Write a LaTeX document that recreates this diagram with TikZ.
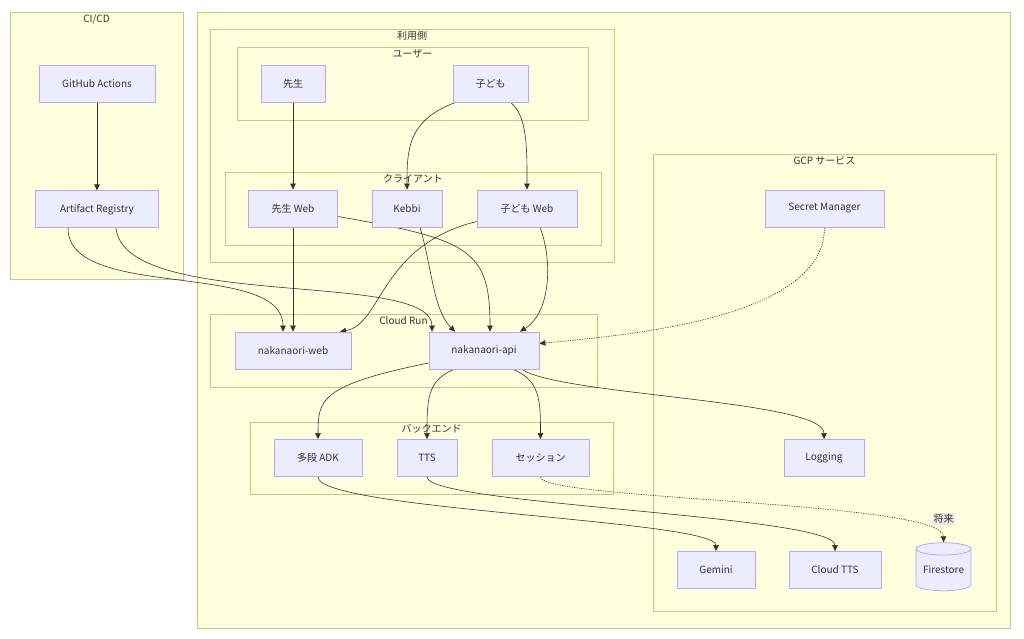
\documentclass[tikz,border=0pt]{standalone}
\usepackage{fontspec}
\setmainfont{Noto Sans CJK JP}
\usetikzlibrary{arrows.meta,positioning,shapes.geometric,backgrounds}

\definecolor{clfill}{HTML}{FFFFDE}
\definecolor{clline}{HTML}{C8C87A}
\definecolor{ndfill}{HTML}{ECECFF}
\definecolor{ndline}{HTML}{B9A6EE}
\definecolor{ink}{HTML}{333333}

\pgfdeclarelayer{edges}
\pgfsetlayers{background,edges,main}

\begin{document}
\begin{tikzpicture}[
  x=1pt, y=-1pt,
  box/.style={draw=ndline, fill=ndfill, line width=0.8pt, minimum height=37pt, inner sep=0pt, text=ink, font=\fontsize{10}{12}\selectfont},
  cluster/.style={draw=clline, fill=clfill, line width=0.8pt, inner sep=0pt},
  clabel/.style={anchor=north, inner sep=0pt, yshift=-2.5pt, text=ink, font=\fontsize{10}{12}\selectfont},
  arr/.style={-{Triangle[length=6pt,width=5.5pt]}, draw=ink, line width=0.6pt},
  fut/.style={arr, dash pattern=on 1.2pt off 1.2pt},
  flabel/.style={fill=black!9, inner sep=1pt, text=ink, font=\fontsize{10}{12}\selectfont}
]
  \useasboundingbox (0,0) rectangle (1024,638);

  % nodes
  \node[box, minimum width=116pt] (gha) at (97,83.5) {GitHub Actions};
  \node[box, minimum width=123pt, below=88pt of gha] (art) {Artifact Registry};

  \node[box, minimum width=64pt] (teacher) at (293,83.5) {先生};
  \node[box, minimum width=75pt] (child) at (490.5,83.5) {子ども};

  \node[box, minimum width=89pt] (tweb) at (293,208.5) {先生 Web};
  \node[box, minimum width=70pt] (kebbi) at (407,208.5) {Kebbi};
  \node[box, minimum width=100pt] (cweb) at (527,208.5) {子ども Web};

  \node[box, minimum width=116pt] (nweb) at (293,350.5) {nakanaori-web};
  \node[box, minimum width=110pt] (napi) at (484,350.5) {nakanaori-api};

  \node[box, minimum width=88pt] (adk) at (318,458) {多段 ADK};
  \node[box, minimum width=60pt] (tts) at (427,458) {TTS};
  \node[box, minimum width=97pt] (sess) at (540.5,458) {セッション};

  \node[box, minimum width=119pt] (secret) at (824.5,208.5) {Secret Manager};
  \node[box, minimum width=80pt] (logg) at (824,458) {Logging};
  \node[box, minimum width=78pt] (gemini) at (716,570) {Gemini};
  \node[box, minimum width=92pt] (ctts) at (835,570) {Cloud TTS};
  \node[box, cylinder, shape border rotate=90, aspect=0.3, minimum width=55pt, minimum height=48pt] (fstore) at (943.5,570) {Firestore};
  \node[flabel] (future) at (943.5,519) {将来};

  % groups
  \begin{pgfonlayer}{background}
    \fill[white] (0,0) rectangle (1024,638);
    \node[cluster, minimum width=173pt, minimum height=267pt, label={[clabel]north:CI/CD}] (cicd) at (96.5,145.5) {};
    \node[cluster, minimum width=813pt, minimum height=616pt] (system) at (603.5,320) {};
    \node[cluster, minimum width=404pt, minimum height=233pt, label={[clabel]north:利用側}] (usage) at (412,145.5) {};
    \node[cluster, minimum width=351pt, minimum height=73pt, label={[clabel]north:ユーザー}] (users) at (412.5,83.5) {};
    \node[cluster, minimum width=376pt, minimum height=73pt, label={[clabel]north:クライアント}] (clients) at (413,208.5) {};
    \node[cluster, minimum width=387pt, minimum height=73pt, label={[clabel]north:Cloud Run}] (cloudrun) at (403.5,350.5) {};
    \node[cluster, minimum width=363pt, minimum height=72pt, label={[clabel]north:バックエンド}] (backend) at (431.5,458) {};
    \node[cluster, minimum width=343pt, minimum height=457pt, label={[clabel]north:GCP サービス}] (gcp) at (824.5,382.5) {};
  \end{pgfonlayer}

  % connectors
  \begin{pgfonlayer}{edges}
    \draw[arr] (gha) -- (art);
    \draw[arr] ([xshift=-29pt]art.south) .. controls +(0,73) and +(0,-72) .. ([xshift=-10pt]nweb.north);
    \draw[arr] ([xshift=19pt]art.south) .. controls +(9,83) and +(0,-62) .. ([xshift=-52pt]napi.north);

    \draw[arr] (teacher) -- (tweb);
    \draw[arr] ([xshift=-35pt]child.south) .. controls +(-48,18) and +(0,-40) .. (kebbi.north);
    \draw[arr] ([xshift=20pt]child.south) .. controls +(17,13) and +(0,-40) .. (cweb.north);

    \draw[arr] (tweb) -- (nweb);
    \draw[arr] ([yshift=-8pt]tweb.east) .. controls +(132,23) and +(0,-82) .. ([xshift=6pt]napi.north);
    \draw[arr] ([xshift=13pt]kebbi.south) .. controls +(12,40) and +(-22,-22) .. ([xshift=-29pt]napi.north);
    \draw[arr] ([yshift=-13pt]cweb.west) .. controls +(-97,24) and +(42,-7) .. ([xshift=47pt]nweb.north);
    \draw[arr] ([xshift=13pt]cweb.south) .. controls +(12,30) and +(32,-20) .. ([xshift=36pt]napi.north);

    \draw[fut] (secret.south) .. controls +(0,93) and +(81,-8) .. ([yshift=7pt]napi.east);

    \draw[arr] ([yshift=-12.5pt]napi.west) .. controls +(-109,22) and +(0,-39) .. (adk.north);
    \draw[arr] ([xshift=-30pt]napi.south) .. controls +(-27,11) and +(0,-39) .. (tts.north);
    \draw[arr] ([xshift=29pt]napi.south) .. controls +(27,11) and +(0,-39) .. (sess.north);
    \draw[arr] ([xshift=38pt]napi.south) .. controls +(38,26) and +(0,-39) .. (logg.north);

    \draw[arr] (adk.south) .. controls +(0,33) and +(0,-31) .. (gemini.north);
    \draw[arr] (tts.south) .. controls +(0,28) and +(0,-36) .. (ctts.north);
    \draw[fut] (sess.south) .. controls +(0,23) and +(0,-41) .. (fstore.north);
  \end{pgfonlayer}
\end{tikzpicture}
\end{document}
